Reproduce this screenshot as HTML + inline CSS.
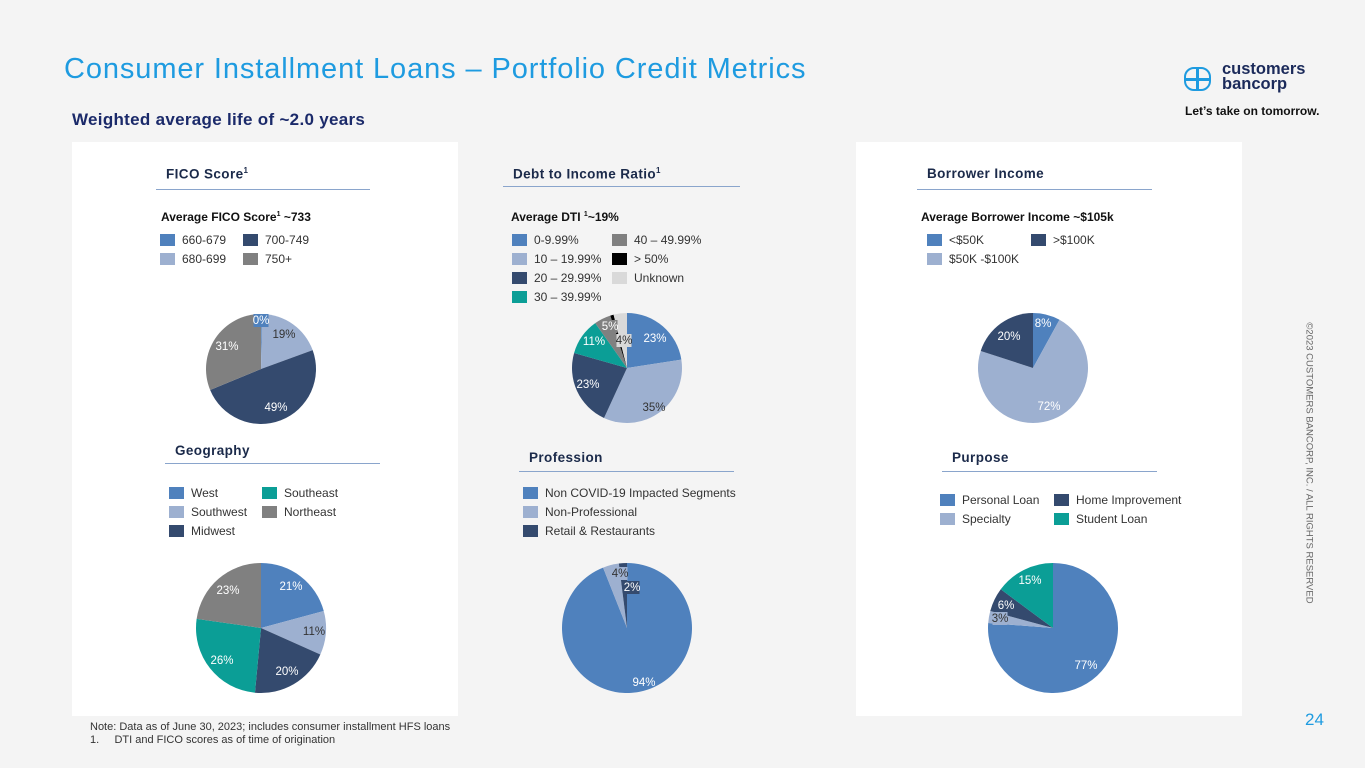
<!DOCTYPE html>
<html><head><meta charset="utf-8"><style>
*{margin:0;padding:0;box-sizing:border-box}
body{width:1365px;height:768px;background:#f4f4f4;font-family:"Liberation Sans",sans-serif;position:relative;overflow:hidden;color:#222}
.a{position:absolute;white-space:nowrap}
.panel{position:absolute;background:#fff}
.h{font-weight:bold;font-size:13.5px;color:#1b2a4a;letter-spacing:0.4px}
.line{position:absolute;height:1px;background:#8aa5cc}
.sub{font-weight:bold;font-size:12px;color:#111}
.lg{font-size:12px;color:#333;display:flex;align-items:center}
.lg i{display:inline-block;width:15px;height:12px;margin-right:7px}
svg{position:absolute;left:0;top:0}
</style></head><body>
<div class="a" style="left:64px;top:53px;font-size:29px;letter-spacing:0.9px;color:#1e9be0">Consumer Installment Loans – Portfolio Credit Metrics</div>
<div class="a" style="left:72px;top:110px;font-size:17px;letter-spacing:0.3px;font-weight:bold;color:#1b2a6a">Weighted average life of ~2.0 years</div>
<div class="a" style="left:1184px;top:67px;width:27px;height:24px;border:2.5px solid #1e9be0;border-radius:10px"></div>
<div class="a" style="left:1184px;top:78px;width:27px;height:2.5px;background:#1e9be0"></div>
<div class="a" style="left:1196px;top:67px;width:2.5px;height:24px;background:#1e9be0"></div>
<div class="a" style="left:1222px;top:62px;font-size:16.5px;line-height:15px;color:#1b2a5a;font-weight:bold">customers<br>bancorp</div>
<div class="a" style="left:1185px;top:104px;font-size:12px;font-weight:bold;color:#111">Let’s take on tomorrow.</div>
<div class="a" style="left:1309px;top:463px;font-size:9.5px;color:#666;transform:translate(-50%,-50%) rotate(90deg)">©2023 CUSTOMERS BANCORP, INC. / ALL RIGHTS RESERVED</div>
<div class="a" style="left:1305px;top:710px;font-size:17px;color:#1e9be0">24</div>
<div class="a" style="left:90px;top:721px;font-size:11px;color:#333;line-height:13px">Note: Data as of June 30, 2023; includes consumer installment HFS loans<br>1.&nbsp;&nbsp;&nbsp;&nbsp;&nbsp;DTI and FICO scores as of time of origination</div>

<div class="panel" style="left:72px;top:142px;width:386px;height:574px"></div>
<div class="panel" style="left:856px;top:142px;width:386px;height:574px"></div>

<div class="a h" style="left:166px;top:166px">FICO Score<sup style="font-size:8px">1</sup></div>
<div class="line" style="left:156px;top:189px;width:214px"></div>
<div class="a sub" style="left:161px;top:210px">Average FICO Score<sup style="font-size:7px">1</sup> ~733</div>
<div class="a lg" style="left:160px;top:233px"><i style="background:#4f81bd"></i>660-679</div>
<div class="a lg" style="left:243px;top:233px"><i style="background:#344a6e"></i>700-749</div>
<div class="a lg" style="left:160px;top:252px"><i style="background:#9db0d0"></i>680-699</div>
<div class="a lg" style="left:243px;top:252px"><i style="background:#808080"></i>750+</div>

<div class="a h" style="left:513px;top:166px">Debt to Income Ratio<sup style="font-size:8px">1</sup></div>
<div class="line" style="left:503px;top:186px;width:237px"></div>
<div class="a sub" style="left:511px;top:210px">Average DTI <sup style="font-size:7px">1</sup>~19%</div>
<div class="a lg" style="left:512px;top:233px"><i style="background:#4f81bd"></i>0-9.99%</div>
<div class="a lg" style="left:612px;top:233px"><i style="background:#808080"></i>40 – 49.99%</div>
<div class="a lg" style="left:512px;top:252px"><i style="background:#9db0d0"></i>10 – 19.99%</div>
<div class="a lg" style="left:612px;top:252px"><i style="background:#000"></i>&gt; 50%</div>
<div class="a lg" style="left:512px;top:271px"><i style="background:#344a6e"></i>20 – 29.99%</div>
<div class="a lg" style="left:612px;top:271px"><i style="background:#d9d9d9"></i>Unknown</div>
<div class="a lg" style="left:512px;top:290px"><i style="background:#0b9e96"></i>30 – 39.99%</div>

<div class="a h" style="left:927px;top:166px">Borrower Income</div>
<div class="line" style="left:917px;top:189px;width:235px"></div>
<div class="a sub" style="left:921px;top:210px">Average Borrower Income ~$105k</div>
<div class="a lg" style="left:927px;top:233px"><i style="background:#4f81bd"></i>&lt;$50K</div>
<div class="a lg" style="left:1031px;top:233px"><i style="background:#344a6e"></i>&gt;$100K</div>
<div class="a lg" style="left:927px;top:252px"><i style="background:#9db0d0"></i>$50K -$100K</div>

<div class="a h" style="left:175px;top:443px">Geography</div>
<div class="line" style="left:165px;top:463px;width:215px"></div>
<div class="a lg" style="left:169px;top:486px"><i style="background:#4f81bd"></i>West</div>
<div class="a lg" style="left:262px;top:486px"><i style="background:#0b9e96"></i>Southeast</div>
<div class="a lg" style="left:169px;top:505px"><i style="background:#9db0d0"></i>Southwest</div>
<div class="a lg" style="left:262px;top:505px"><i style="background:#808080"></i>Northeast</div>
<div class="a lg" style="left:169px;top:524px"><i style="background:#344a6e"></i>Midwest</div>

<div class="a h" style="left:529px;top:450px">Profession</div>
<div class="line" style="left:519px;top:471px;width:215px"></div>
<div class="a lg" style="left:523px;top:486px"><i style="background:#4f81bd"></i>Non COVID-19 Impacted Segments</div>
<div class="a lg" style="left:523px;top:505px"><i style="background:#9db0d0"></i>Non-Professional</div>
<div class="a lg" style="left:523px;top:524px"><i style="background:#344a6e"></i>Retail &amp; Restaurants</div>

<div class="a h" style="left:952px;top:450px">Purpose</div>
<div class="line" style="left:942px;top:471px;width:215px"></div>
<div class="a lg" style="left:940px;top:493px"><i style="background:#4f81bd"></i>Personal Loan</div>
<div class="a lg" style="left:1054px;top:493px"><i style="background:#344a6e"></i>Home Improvement</div>
<div class="a lg" style="left:940px;top:512px"><i style="background:#9db0d0"></i>Specialty</div>
<div class="a lg" style="left:1054px;top:512px"><i style="background:#0b9e96"></i>Student Loan</div>

<svg id="pies" width="1365" height="768"></svg>
<script>
var B="#4f81bd",L="#9db0d0",D="#344a6e",T="#0b9e96",G="#808080",K="#000",U="#d9d9d9";
var pies=[
 [261,369,55,[[0.3,B],[19,L],[49,D],[31,G]],[["0%",261,324,"#fff",B],["19%",284,338,"#333"],["49%",276,411,"#fff"],["31%",227,350,"#fff"]]],
 [627,368,55,[[23,B],[35,L],[23,D],[11,T],[5,G],[1,K],[4,U]],[["23%",655,342,"#fff"],["35%",654,411,"#333"],["23%",588,388,"#fff"],["11%",594,345,"#fff"],["5%",610,330,"#fff",G],["4%",624,344,"#333",U]]],
 [1033,368,55,[[8,B],[72,L],[20,D]],[["8%",1043,327,"#fff"],["72%",1049,410,"#fff"],["20%",1009,340,"#fff"]]],
 [261,628,65,[[21,B],[11,L],[20,D],[26,T],[23,G]],[["21%",291,590,"#fff"],["11%",314,635,"#333"],["20%",287,675,"#fff"],["26%",222,664,"#fff"],["23%",228,594,"#fff"]]],
 [627,628,65,[[94,B],[4,L],[2,D]],[["94%",644,686,"#fff"],["4%",620,577,"#333",L],["2%",632,591,"#fff",D]]],
 [1053,628,65,[[77,B],[3,L],[6,D],[15,T]],[["77%",1086,669,"#fff"],["3%",1000,622,"#333",L],["6%",1006,609,"#fff"],["15%",1030,584,"#fff"]]]
];
var s="";
pies.forEach(function(p){
 var cx=p[0],cy=p[1],r=p[2],tot=0;p[3].forEach(function(x){tot+=x[0]});
 var a=0;
 p[3].forEach(function(x){
  var a0=a/tot*2*Math.PI,a1=(a+x[0])/tot*2*Math.PI;a+=x[0];
  var x0=cx+r*Math.sin(a0),y0=cy-r*Math.cos(a0),x1=cx+r*Math.sin(a1),y1=cy-r*Math.cos(a1);
  var lg=(a1-a0)>Math.PI?1:0;
  s+='<path d="M'+cx+','+cy+'L'+x0+','+y0+'A'+r+','+r+' 0 '+lg+' 1 '+x1+','+y1+'Z" fill="'+x[1]+'"/>';
 });
 p[4].forEach(function(l){
  var w=l[0].length*6.5+2;
  if(l[4])s+='<rect x="'+(l[1]-w/2)+'" y="'+(l[2]-10)+'" width="'+w+'" height="13" fill="'+l[4]+'"/>';
  s+='<text x="'+l[1]+'" y="'+l[2]+'" font-size="11.5" text-anchor="middle" fill="'+l[3]+'" font-family="Liberation Sans, sans-serif">'+l[0]+'</text>';
 });
});
document.getElementById("pies").innerHTML=s;
</script>
</body></html>
